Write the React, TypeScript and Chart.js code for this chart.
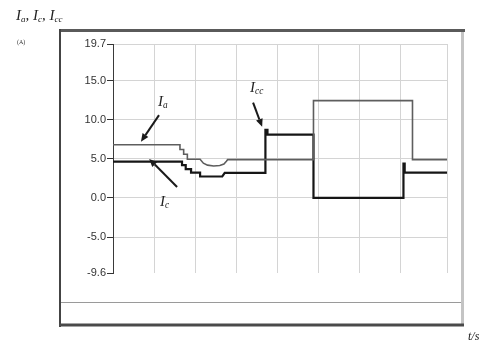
import React, { useEffect, useRef } from "react";
import { Chart, registerables } from "chart.js";

Chart.register(...registerables);

// Time in grid-division units (no labels on the time axis)
const xMin = 0;
const xMax = 8.13;

// Y ticks (A)
const yTicks = [-9.6, -5.0, 0.0, 5.0, 10.0, 15.0, 19.7];

// Ia trace (upper, grey)
const iaT = [0, 1.63, 1.63, 1.72, 1.72, 1.81, 1.81, 2.12, 2.2, 2.3, 2.45, 2.6, 2.7, 2.76, 2.79, 4.88, 4.88, 7.29, 7.29, 8.13];
const iaV = [6.8, 6.8, 6.2, 6.2, 5.6, 5.6, 4.95, 4.95, 4.45, 4.2, 4.1, 4.15, 4.35, 4.7, 4.9, 4.9, 12.45, 12.45, 4.9, 4.9];

// Ic / Icc trace (lower, black)
const icT = [0, 1.68, 1.68, 1.77, 1.77, 1.9, 1.9, 2.12, 2.12, 2.66, 2.72, 3.71, 3.71, 3.76, 3.76, 4.88, 4.88, 7.07, 7.07, 7.1, 7.1, 8.13];
const icV = [4.65, 4.65, 4.2, 4.2, 3.7, 3.7, 3.25, 3.25, 2.75, 2.75, 3.2, 3.2, 8.7, 8.7, 8.1, 8.1, 0.0, 0.0, 4.4, 4.4, 3.25, 3.25];

// Annotation arrows [tailX, tailY, tipX, tipY] in data units
const arrowIa = [1.12, 10.6, 0.68, 7.2];
const arrowIc = [1.56, 1.4, 0.88, 5.0];
const arrowIcc = [3.41, 12.2, 3.63, 9.1];

const toPts = (t: number[], v: number[]) => t.map((x, i) => ({ x, y: v[i] }));

const framePlugin = {
  id: "frame",
  beforeDraw(chart: any) {
    const ctx = chart.ctx;
    ctx.save();
    ctx.fillStyle = "#ffffff";
    ctx.fillRect(0, 0, chart.width, chart.height);
    ctx.strokeStyle = "#9a9a9a";
    ctx.lineWidth = 1;
    ctx.beginPath();
    ctx.moveTo(60, 302.5);
    ctx.lineTo(462, 302.5);
    ctx.stroke();
    ctx.strokeStyle = "#c4c4c4";
    ctx.lineWidth = 3;
    ctx.beginPath();
    ctx.moveTo(462.5, 30);
    ctx.lineTo(462.5, 325);
    ctx.stroke();
    ctx.strokeStyle = "#5a5a5a";
    ctx.lineWidth = 3;
    ctx.beginPath();
    ctx.moveTo(59, 30.5);
    ctx.lineTo(465, 30.5);
    ctx.stroke();
    ctx.strokeStyle = "#444";
    ctx.lineWidth = 2;
    ctx.beginPath();
    ctx.moveTo(60, 29);
    ctx.lineTo(60, 327);
    ctx.stroke();
    ctx.strokeStyle = "#4a4a4a";
    ctx.lineWidth = 3;
    ctx.beginPath();
    ctx.moveTo(59, 325);
    ctx.lineTo(464, 325);
    ctx.stroke();
    ctx.restore();
  },
  afterDraw(chart: any) {
    const ctx = chart.ctx;
    const xs = chart.scales.x;
    const ys = chart.scales.y;
    const drawArrow = (a: number[]) => {
      const x1 = xs.getPixelForValue(a[0]);
      const y1 = ys.getPixelForValue(a[1]);
      const x2 = xs.getPixelForValue(a[2]);
      const y2 = ys.getPixelForValue(a[3]);
      const ang = Math.atan2(y2 - y1, x2 - x1);
      const hl = 8;
      const hw = 3.5;
      const bx = x2 - hl * Math.cos(ang);
      const by = y2 - hl * Math.sin(ang);
      ctx.save();
      ctx.strokeStyle = "#1a1a1a";
      ctx.fillStyle = "#1a1a1a";
      ctx.lineWidth = 2;
      ctx.beginPath();
      ctx.moveTo(x1, y1);
      ctx.lineTo(bx, by);
      ctx.stroke();
      ctx.beginPath();
      ctx.moveTo(x2, y2);
      ctx.lineTo(bx + hw * Math.sin(ang), by - hw * Math.cos(ang));
      ctx.lineTo(bx - hw * Math.sin(ang), by + hw * Math.cos(ang));
      ctx.closePath();
      ctx.fill();
      ctx.restore();
    };
    drawArrow(arrowIa);
    drawArrow(arrowIc);
    drawArrow(arrowIcc);
  },
};

const serif = "'Liberation Serif', 'DejaVu Serif', serif";

const Lbl: React.FC<{ x: number; y: number; main: string; sub: string; size?: number }> = ({ x, y, main, sub, size = 15 }) => (
  <div style={{ position: "absolute", left: x, top: y, fontFamily: serif, fontStyle: "italic", fontSize: size, lineHeight: 1, color: "#222", whiteSpace: "nowrap" }}>
    {main}
    <sub style={{ fontSize: size * 0.62, verticalAlign: "-0.25em" }}>{sub}</sub>
  </div>
);

export default function App() {
  const ref = useRef<HTMLCanvasElement | null>(null);
  useEffect(() => {
    if (!ref.current) return;
    const chart = new Chart(ref.current, {
      type: "line",
      data: {
        datasets: [
          {
            label: "Ia",
            data: toPts(iaT, iaV),
            borderColor: "#5e5e5e",
            borderWidth: 1.6,
            pointRadius: 0,
            tension: 0,
          },
          {
            label: "Ic",
            data: toPts(icT, icV),
            borderColor: "#161616",
            borderWidth: 2.2,
            pointRadius: 0,
            tension: 0,
          },
        ],
      },
      options: {
        responsive: false,
        animation: false,
        devicePixelRatio: 1,
        layout: { padding: { left: 0, top: 44, right: 42, bottom: 68 } },
        plugins: { legend: { display: false }, tooltip: { enabled: false } },
        scales: {
          x: {
            type: "linear",
            min: xMin,
            max: xMax,
            ticks: { display: false, stepSize: 1 },
            grid: {
              drawTicks: false,
              color: (c: any) => (c.tick && c.tick.value === 0 ? "rgba(0,0,0,0)" : "#d4d4d4"),
              lineWidth: 1,
            },
            border: { display: false },
            afterFit: (s: any) => {
              s.height = 0;
            },
          },
          y: {
            type: "linear",
            min: yTicks[0],
            max: yTicks[yTicks.length - 1],
            afterBuildTicks: (s: any) => {
              s.ticks = yTicks.map((v) => ({ value: v }));
            },
            afterFit: (s: any) => {
              s.width = 113;
            },
            ticks: {
              padding: 1,
              color: "#333",
              font: { family: "'Liberation Sans', Arial, sans-serif", size: 11 },
              callback: (v: any) => Number(v).toFixed(1),
            },
            grid: {
              tickLength: 6,
              tickColor: "#333",
              color: (c: any) => (c.tick && c.tick.value === yTicks[0] ? "rgba(0,0,0,0)" : "#d4d4d4"),
            },
            border: { display: true, color: "#3a3a3a", width: 1 },
          },
        },
      },
      plugins: [framePlugin],
    });
    return () => chart.destroy();
  }, []);

  return (
    <div style={{ position: "fixed", left: 0, top: 0, width: 489, height: 341, background: "#fff", overflow: "hidden" }}>
      <canvas ref={ref} width={489} height={341} style={{ position: "absolute", left: 0, top: 0, width: 489, height: 341 }} />
      <div style={{ position: "absolute", left: 16, top: 8, fontFamily: serif, fontStyle: "italic", fontSize: 15, lineHeight: 1, color: "#222", whiteSpace: "nowrap" }}>
        I<sub style={{ fontSize: 9, verticalAlign: "-0.2em" }}>a</sub>, I<sub style={{ fontSize: 9, verticalAlign: "-0.2em" }}>c</sub>, I<sub style={{ fontSize: 9, verticalAlign: "-0.2em" }}>cc</sub>
      </div>
      <div style={{ position: "absolute", left: 17, top: 39, fontFamily: serif, fontSize: 6, lineHeight: 1, color: "#333" }}>(A)</div>
      <Lbl x={158} y={94} main="I" sub="a" />
      <Lbl x={160} y={194} main="I" sub="c" />
      <Lbl x={250} y={80} main="I" sub="cc" />
      <div style={{ position: "absolute", left: 468, top: 330, fontFamily: serif, fontStyle: "italic", fontSize: 12, lineHeight: 1, color: "#222", whiteSpace: "nowrap" }}>t/s</div>
    </div>
  );
}
